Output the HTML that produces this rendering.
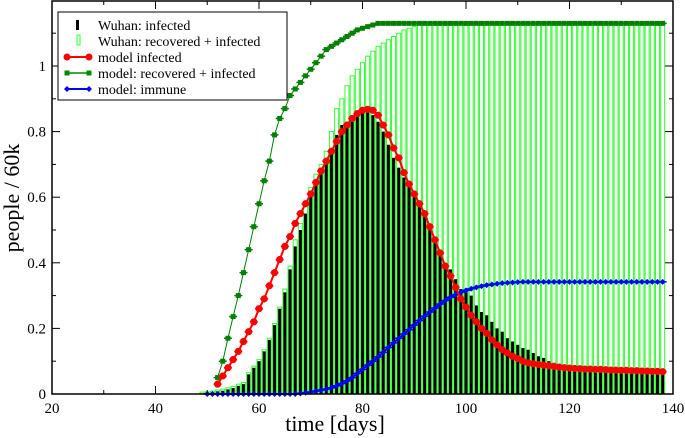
<!DOCTYPE html>
<html><head><meta charset="utf-8"><style>
body{margin:0;background:#fff}
svg{display:block}
svg text{font-family:"Liberation Serif","DejaVu Serif",serif}
</style></head><body>
<svg id="chart" width="685" height="438" viewBox="0 0 685 438" xmlns="http://www.w3.org/2000/svg" font-family="Liberation Serif, serif">
<g id="bars"></g>
<g id="lines"></g>
<rect x="52" y="1" width="621" height="393" fill="none" stroke="#000" stroke-width="1.5"/>
<g id="axes"></g>
<text x="335" y="431" font-size="22" text-anchor="middle">time [days]</text>
<text x="0" y="0" font-size="22" text-anchor="middle" transform="translate(19,198) rotate(-90)">people / 60k</text>
<g>
<rect x="58" y="12" width="229" height="88" fill="#fff" stroke="#000" stroke-width="1"/>
<g><rect x="76" y="20" width="3" height="10" fill="#000"/><text x="98" y="30" font-size="14">Wuhan: infected</text></g>
<g><rect x="77" y="35" width="3" height="10" fill="none" stroke="#3f3" stroke-width="1"/><text x="98" y="46" font-size="14">Wuhan: recovered + infected</text></g>
<g><line x1="67" y1="57" x2="89" y2="57" stroke="#f00" stroke-width="2"/><circle cx="67" cy="57" r="3.5" fill="#f00"/><circle cx="89" cy="57" r="3.5" fill="#f00"/><text x="98" y="62" font-size="14">model infected</text></g>
<g><line x1="67" y1="73" x2="89" y2="73" stroke="#080" stroke-width="1.5"/><rect x="64.5" y="70.5" width="5" height="5" fill="#080"/><rect x="86.5" y="70.5" width="5" height="5" fill="#080"/><text x="98" y="78" font-size="14">model: recovered + infected</text></g>
<g><line x1="67" y1="89" x2="89" y2="89" stroke="#00f" stroke-width="2"/><path d="M67 86L70 89L67 92L64 89Z M89 86L92 89L89 92L86 89Z" fill="#00f"/><text x="98" y="94" font-size="14">model: immune</text></g>
</g>
</svg>
<script>
const dataDays0 = 49;
const wuhanInfected = [0.002,0.003,0.005,0.008,0.01,0.014,0.018,0.025,0.03,0.06,
0.08,0.1,0.13,0.165,0.21,0.26,0.31,0.38,0.45,0.5,
0.55,0.61,0.65,0.67,0.71,0.75,0.79,0.82,0.83,0.85,
0.86,0.86,0.86,0.85,0.83,0.8,0.76,0.72,0.69,0.66,
0.63,0.6,0.57,0.54,0.5,0.47,0.43,0.4,0.38,0.35,
0.32,0.31,0.3,0.27,0.25,0.24,0.22,0.2,0.19,0.17,
0.16,0.15,0.14,0.135,0.125,0.115,0.11,0.1,0.095,0.092,
0.09,0.088,0.086,0.084,0.082,0.08,0.079,0.078,0.077,0.076,
0.075,0.075,0.074,0.074,0.073,0.073,0.073,0.072,0.072,0.072];
const wuhanRecovered = [0.006,0.007,0.009,0.012,0.015,0.019,0.023,0.03,0.035,0.065,
0.085,0.105,0.135,0.17,0.215,0.265,0.32,0.39,0.47,0.52,
0.58,0.63,0.67,0.7,0.74,0.8,0.87,0.9,0.94,0.97,
0.99,1.01,1.03,1.045,1.06,1.07,1.08,1.09,1.1,1.11,
1.115,1.12,1.125,1.13,1.13,1.13,1.13,1.13,1.13,1.13,
1.13,1.13,1.13,1.13,1.13,1.13,1.13,1.13,1.13,1.13,
1.13,1.13,1.13,1.13,1.13,1.13,1.13,1.13,1.13,1.13,
1.13,1.13,1.13,1.13,1.13,1.13,1.13,1.13,1.13,1.13,
1.13,1.13,1.13,1.13,1.13,1.13,1.13,1.13,1.13,1.13];
const modelInfDay0 = 52;
const modelInfected = [0.03,0.055,0.08,0.105,0.13,0.16,0.19,0.22,0.26,0.29,
0.33,0.37,0.41,0.45,0.48,0.52,0.55,0.58,0.61,0.645,
0.68,0.71,0.74,0.77,0.8,0.82,0.84,0.855,0.865,0.868,
0.865,0.85,0.82,0.79,0.75,0.72,0.675,0.64,0.61,0.58,
0.55,0.51,0.47,0.43,0.39,0.36,0.325,0.29,0.265,0.24,
0.22,0.2,0.185,0.165,0.15,0.135,0.125,0.115,0.108,0.1,
0.095,0.092,0.09,0.088,0.086,0.084,0.082,0.08,0.079,0.078,
0.077,0.076,0.076,0.075,0.075,0.074,0.073,0.073,0.072,0.072,
0.071,0.071,0.07,0.07,0.069,0.069,0.068];
const modelRecDay0 = 52;
const modelRecovered = [0.05,0.1,0.17,0.236,0.3,0.37,0.44,0.51,0.58,0.65,
0.71,0.79,0.84,0.87,0.91,0.93,0.95,0.97,0.99,1.01,
1.03,1.05,1.06,1.07,1.08,1.09,1.1,1.11,1.115,1.12,
1.125,1.13,1.13,1.13,1.13,1.13,1.13,1.13,1.13,1.13,
1.13,1.13,1.13,1.13,1.13,1.13,1.13,1.13,1.13,1.13,
1.13,1.13,1.13,1.13,1.13,1.13,1.13,1.13,1.13,1.13,
1.13,1.13,1.13,1.13,1.13,1.13,1.13,1.13,1.13,1.13,
1.13,1.13,1.13,1.13,1.13,1.13,1.13,1.13,1.13,1.13,
1.13,1.13,1.13,1.13,1.13,1.13,1.13];
const modelImmDay0 = 50;
const modelImmune = [0,0,0,0,0,0,0,0,0,0,
0,0,0,0,0,0,0,0,
0.002,0.004,0.006,0.009,0.012,0.015,0.019,0.025,0.032,0.04,
0.05,0.063,0.075,0.088,0.1,0.113,0.127,0.142,0.156,0.17,
0.183,0.196,0.21,0.224,0.237,0.25,0.262,0.274,0.285,0.295,
0.303,0.31,0.316,0.321,0.325,0.329,0.332,0.334,0.336,0.338,
0.339,0.34,0.341,
0.342,0.342,0.342,0.342,0.342,0.342,0.342,0.342,0.342,0.342,
0.342,0.342,0.342,0.342,0.342,0.342,0.342,0.342,0.342,0.342,
0.342,0.342,0.342,0.342,0.342,0.342,0.342,0.342];
const xTicks = [20,40,60,80,100,120,140];
const yTicks = [0,0.2,0.4,0.6,0.8,1];
const yTickLabels = ["0","0.2","0.4","0.6","0.8","1"];

const NS="http://www.w3.org/2000/svg";
const xs=d=>52+(d-20)*(621/120);
const ys=v=>394-v*328;
function mk(tag,attrs,parent){const e=document.createElementNS(NS,tag);for(const k in attrs)e.setAttribute(k,attrs[k]);parent.appendChild(e);return e;}
const bars=document.getElementById('bars'),lines=document.getElementById('lines'),axes=document.getElementById('axes');

wuhanRecovered.forEach((v,i)=>{const d=dataDays0+i;
 const r=mk('rect',{x:xs(d)-2,y:ys(v),width:4,height:394-ys(v),fill:'none',stroke:'#33ff33','stroke-width':1},bars);
 
 });
wuhanInfected.forEach((v,i)=>{const d=dataDays0+i;
 const r=mk('rect',{x:xs(d)-1.5,y:ys(v),width:3,height:394-ys(v),fill:'#000'},bars);
 
 });

function series(arr,d0,color,kind,name,lw){
 const pts=arr.map((v,i)=>xs(d0+i).toFixed(2)+','+ys(v).toFixed(2)).join(' ');
 const pl=mk('polyline',{points:pts,fill:'none',stroke:color,'stroke-width':lw},lines);
 
 
 arr.forEach((v,i)=>{const x=xs(d0+i),y=ys(v);let m;
  mk('line',{x1:x-4,x2:x+4,y1:y,y2:y,stroke:color,'stroke-width':1.5},lines);
  if(kind==='circle')m=mk('circle',{cx:x,cy:y,r:3.6,fill:color},lines);
  else if(kind==='square')m=mk('rect',{x:x-2.5,y:y-2.5,width:5,height:5,fill:color},lines);
  else m=mk('path',{d:`M${x} ${y-3}L${x+3} ${y}L${x} ${y+3}L${x-3} ${y}Z`,fill:color},lines);
  
  });
}
series(modelRecovered,modelRecDay0,'#008000','square','model-recovered',1);
series(modelImmune,modelImmDay0,'#0000ff','diamond','model-immune',2);
series(modelInfected,modelInfDay0,'#ff0000','circle','model-infected',2);

xTicks.forEach(t=>{const x=xs(t);
 mk('line',{x1:x,x2:x,y1:394,y2:386,stroke:'#000'},axes);
 mk('line',{x1:x,x2:x,y1:1,y2:9,stroke:'#000'},axes);
 const tx=mk('text',{x:x,y:413,'font-size':15,'text-anchor':'middle'},axes);tx.textContent=t;
 
 
 if(t<140){const xm=xs(t+10);mk('line',{x1:xm,x2:xm,y1:394,y2:390,stroke:'#000'},axes);mk('line',{x1:xm,x2:xm,y1:1,y2:5,stroke:'#000'},axes);}
});
yTicks.forEach((t,i)=>{const y=ys(t);
 mk('line',{x1:52,x2:60,y1:y,y2:y,stroke:'#000'},axes);
 mk('line',{x1:673,x2:665,y1:y,y2:y,stroke:'#000'},axes);
 const tx=mk('text',{x:46,y:y+5,'font-size':15,'text-anchor':'end'},axes);tx.textContent=yTickLabels[i];
 
 
 const ym=ys(t+0.1);if(ym>1){mk('line',{x1:52,x2:56,y1:ym,y2:ym,stroke:'#000'},axes);mk('line',{x1:673,x2:669,y1:ym,y2:ym,stroke:'#000'},axes);}
});
</script>
</body></html>
